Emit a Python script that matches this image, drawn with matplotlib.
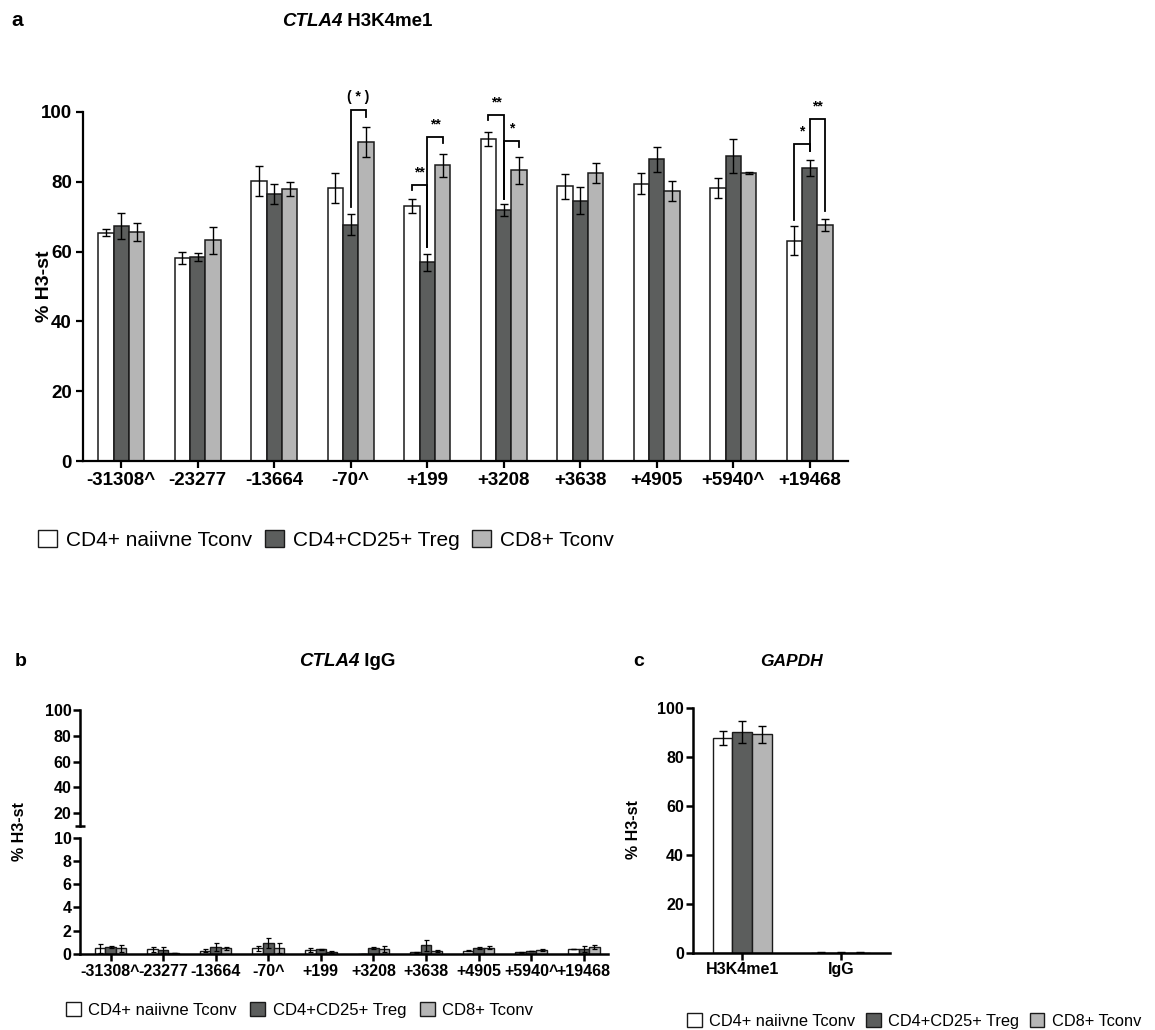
import matplotlib
matplotlib.use('Agg')
import matplotlib.pyplot as plt
from matplotlib import font_manager
from matplotlib.patches import Patch
import numpy as np

names = {f.name for f in font_manager.fontManager.ttflist}
NARROW = 'Liberation Sans Narrow' if 'Liberation Sans Narrow' in names else 'Liberation Sans'
REG = 'Liberation Sans'
plt.rcParams['font.family'] = [REG, 'DejaVu Sans']

# ---------------- data ----------------
series_names = ['CD4+ naiivne Tconv', 'CD4+CD25+ Treg', 'CD8+ Tconv']
series_colors = ['#ffffff', '#5c5e5d', '#b5b5b5']

regions = ['-31308^', '-23277', '-13664', '-70^', '+199', '+3208', '+3638', '+4905', '+5940^', '+19468']

naive_a = [65.4, 58.2, 80.1, 78.2, 73.1, 92.3, 78.7, 79.5, 78.3, 63.1]
naive_a_err = [1.0, 1.8, 4.3, 4.4, 2.0, 2.0, 3.5, 2.9, 2.9, 4.2]
treg_a = [67.4, 58.5, 76.5, 67.7, 56.9, 71.9, 74.6, 86.4, 87.4, 84.0]
treg_a_err = [3.7, 1.1, 3.0, 3.0, 2.4, 1.6, 3.8, 3.5, 4.9, 2.2]
cd8_a = [65.6, 63.2, 78.0, 91.4, 84.7, 83.3, 82.6, 77.4, 82.6, 67.5]
cd8_a_err = [2.6, 3.9, 2.0, 4.2, 3.3, 3.8, 2.9, 2.9, 0.3, 1.7]

# significance brackets: (group, bar_from, bar_to, y_left, y_top, y_right, label, label_y)
sig_brackets = [
    (3, 1, 2, 72.8, 100.7, 98.6, '( * )', 102.3),
    (4, 0, 1, 77.6, 79.0, 61.4, '**', 80.6),
    (4, 1, 2, 61.4, 92.8, 91.1, '**', 94.4),
    (5, 0, 1, 97.8, 99.2, 75.2, '**', 100.8),
    (5, 1, 2, 75.2, 91.7, 90.0, '*', 93.2),
    (9, 0, 1, 69.0, 90.9, 88.8, '*', 92.4),
    (9, 1, 2, 88.8, 98.1, 71.7, '**', 99.7),
]

naive_b = [0.5, 0.4, 0.3, 0.5, 0.35, 0.03, 0.15, 0.3, 0.15, 0.45]
naive_b_err = [0.4, 0.2, 0.15, 0.2, 0.15, 0.0, 0.05, 0.03, 0.03, 0.02]
treg_b = [0.6, 0.35, 0.6, 0.95, 0.4, 0.5, 0.75, 0.5, 0.25, 0.4]
treg_b_err = [0.07, 0.25, 0.35, 0.45, 0.07, 0.1, 0.45, 0.08, 0.03, 0.25]
cd8_b = [0.5, 0.07, 0.5, 0.5, 0.18, 0.4, 0.25, 0.55, 0.35, 0.6]
cd8_b_err = [0.3, 0.02, 0.12, 0.45, 0.06, 0.25, 0.07, 0.12, 0.12, 0.2]

gapdh_cats = ['H3K4me1', 'IgG']
naive_c = [87.8, 0.2]
naive_c_err = [2.9, 0.05]
treg_c = [90.2, 0.2]
treg_c_err = [4.6, 0.05]
cd8_c = [89.2, 0.2]
cd8_c_err = [3.3, 0.05]

# ---------------- figure ----------------
W, H = 1155, 1030
fig = plt.figure(figsize=(W / 100, H / 100), dpi=100)


def rect(l, r, top, bot):
    return [l / W, 1 - bot / H, (r - l) / W, (bot - top) / H]


def style_axes(ax, lw=1.6, pad=2):
    for s in ['top', 'right']:
        ax.spines[s].set_visible(False)
    for s in ['left', 'bottom']:
        ax.spines[s].set_linewidth(lw)
    ax.tick_params(direction='out', width=lw, length=5, pad=pad)


def draw_bars(ax, vals, errs, width, capsize, lw=1.1, elw=1.0):
    n = len(vals[0])
    x = np.arange(n)
    offs = [-width, 0, width]
    for k in range(3):
        ax.bar(x + offs[k], vals[k], width=width, color=series_colors[k],
               edgecolor='#1a1a1a', linewidth=lw, yerr=errs[k], capsize=capsize,
               error_kw=dict(elinewidth=elw, capthick=elw, ecolor='black'), zorder=2)
    return x


def two_part_title(x, y, italic, rest, size, family):
    t1 = fig.text(0, y, italic, fontsize=size, fontweight='bold', style='italic',
                  family=family, ha='left', va='center')
    t2 = fig.text(0, y, ' ' + rest, fontsize=size, fontweight='bold',
                  family=family, ha='left', va='center')
    fig.canvas.draw()
    r = fig.canvas.get_renderer()
    w1 = t1.get_window_extent(r).width / W
    w2 = t2.get_window_extent(r).width / W
    start = x - (w1 + w2) / 2
    t1.set_x(start)
    t2.set_x(start + w1)


# ---------------- panel a ----------------
axa = fig.add_axes(rect(83, 848, 112, 461))
xa = draw_bars(axa, [naive_a, treg_a, cd8_a], [naive_a_err, treg_a_err, cd8_a_err],
               0.2, 3.0)
style_axes(axa, pad=3)
axa.set_xlim(-0.5, 9.5)
axa.set_ylim(0, 100)
axa.set_yticks([0, 20, 40, 60, 80, 100])
axa.set_xticks(xa)
axa.set_xticklabels(regions)
for lab in axa.get_xticklabels() + axa.get_yticklabels():
    lab.set_fontfamily(NARROW)
    lab.set_fontweight('bold')
    lab.set_fontsize(13.5)
axa.set_ylabel('% H3-st', fontsize=14, fontweight='bold', family=NARROW)
axa.yaxis.set_label_coords((53 - 83) / 765, 0.5)

offs = [-0.2, 0, 0.2]
for g, i, j, yl, yt, yr, lab, ly in sig_brackets:
    x1 = g + offs[i]
    x2 = g + offs[j]
    axa.plot([x1, x1, x2, x2], [yl, yt, yt, yr], color='black', lw=1.3,
             clip_on=False, zorder=3, solid_joinstyle='miter')
    axa.text((x1 + x2) / 2, ly, lab, ha='center', va='bottom', fontsize=10,
             fontweight='bold', family=NARROW, clip_on=False)

fig.text(17 / W, 1 - 21 / H, 'a', fontsize=15, fontweight='bold', family=NARROW,
         ha='center', va='center')
two_part_title(357 / W, 1 - 22 / H, 'CTLA4', 'H3K4me1', 13.5, NARROW)

handles = [Patch(facecolor=c, edgecolor='#1a1a1a', linewidth=1.0) for c in series_colors]
fig.legend(handles, series_names, loc='center left', bbox_to_anchor=(38 / W, 1 - 540 / H),
           ncol=3, frameon=False, handlelength=0.9, handleheight=0.9, handletextpad=0.45,
           columnspacing=0.6, borderaxespad=0, borderpad=0,
           prop={'family': NARROW, 'size': 15})

# ---------------- panel b ----------------
xl_b = (-0.58, 9.46)
axbt = fig.add_axes(rect(80, 608, 710, 826))
axbb = fig.add_axes(rect(80, 608, 837.5, 954))
for ax in (axbt, axbb):
    draw_bars(ax, [naive_b, treg_b, cd8_b], [naive_b_err, treg_b_err, cd8_b_err],
              0.2, 1.8, lw=1.0, elw=0.9)
    style_axes(ax, lw=1.8, pad=1)
    ax.set_xlim(*xl_b)
axbt.set_ylim(10, 100)
axbt.spines['bottom'].set_visible(False)
axbt.set_xticks([])
axbt.set_yticks([20, 40, 60, 80, 100])
axbt.set_yticks([10], minor=True)
axbt.tick_params(axis='y', which='minor', direction='inout', length=7, width=1.8)
axbb.set_ylim(0, 10)
axbb.set_yticks([0, 2, 4, 6, 8, 10])
axbb.set_xticks(np.arange(len(regions)))
axbb.set_xticklabels(regions)
for ax in (axbt, axbb):
    for lab in ax.get_yticklabels():
        lab.set_fontweight('bold')
        lab.set_fontsize(11.5)
for lab in axbb.get_xticklabels():
    lab.set_fontweight('bold')
    lab.set_fontsize(11.5)
axbb.tick_params(axis='x', pad=2)
fig.text(20 / W, 1 - 832 / H, '% H3-st', rotation=90, fontsize=11.5, fontweight='bold',
         ha='center', va='center')
fig.text(21 / W, 1 - 662 / H, 'b', fontsize=14, fontweight='bold', ha='center', va='center')
two_part_title(347 / W, 1 - 662 / H, 'CTLA4', 'IgG', 13.5, REG)
fig.legend(handles, series_names, loc='center left', bbox_to_anchor=(66 / W, 1 - 1010 / H),
           ncol=3, frameon=False, handlelength=0.9, handleheight=0.9, handletextpad=0.45,
           columnspacing=0.8, borderaxespad=0, borderpad=0,
           prop={'family': REG, 'size': 12})

# ---------------- panel c ----------------
axc = fig.add_axes(rect(693, 890, 708, 953))
xc = draw_bars(axc, [naive_c, treg_c, cd8_c], [naive_c_err, treg_c_err, cd8_c_err],
               0.2, 3.0, lw=1.0, elw=1.0)
style_axes(axc, lw=1.8, pad=1.5)
axc.set_xlim(-0.5, 1.5)
axc.set_ylim(0, 100)
axc.set_yticks([0, 20, 40, 60, 80, 100])
axc.set_xticks(xc)
axc.set_xticklabels(gapdh_cats)
for lab in axc.get_xticklabels() + axc.get_yticklabels():
    lab.set_fontweight('bold')
    lab.set_fontsize(11.5)
fig.text(633 / W, 1 - 830 / H, '% H3-st', rotation=90, fontsize=11.5, fontweight='bold',
         ha='center', va='center')
fig.text(639 / W, 1 - 662 / H, 'c', fontsize=14, fontweight='bold', ha='center', va='center')
fig.text(791 / W, 1 - 662 / H, 'GAPDH', fontsize=12.5, fontweight='bold', style='italic',
         ha='center', va='center')
fig.legend(handles, series_names, loc='center left', bbox_to_anchor=(687 / W, 1 - 1021 / H),
           ncol=3, frameon=False, handlelength=0.9, handleheight=0.9, handletextpad=0.45,
           columnspacing=0.65, borderaxespad=0, borderpad=0,
           prop={'family': REG, 'size': 11.8})

fig.savefig('out.png', dpi=100, facecolor='white')
